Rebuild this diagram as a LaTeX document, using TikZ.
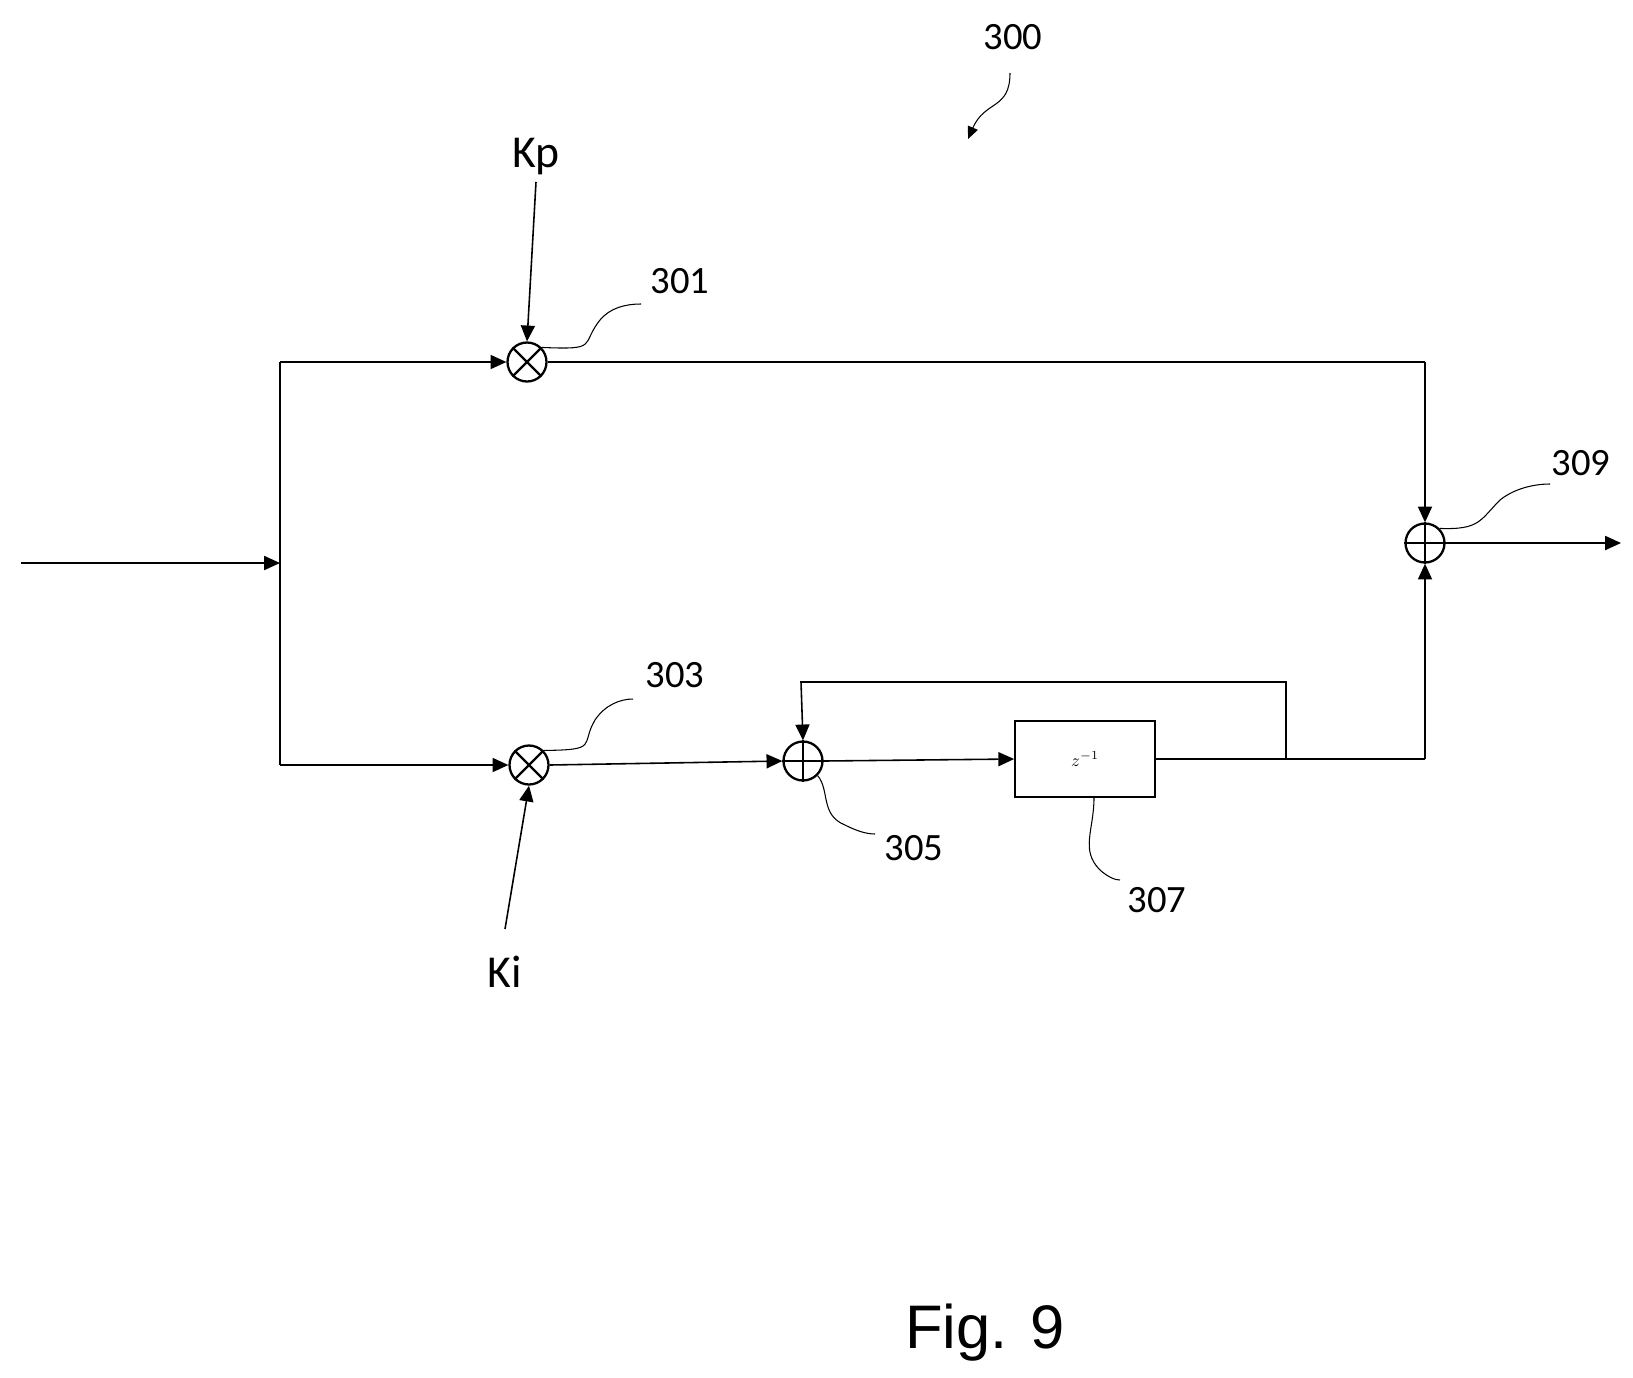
\documentclass[tikz,border=0pt]{standalone}
\usepackage{fontspec}
\setmainfont{Carlito}
\newfontfamily\figfont{Liberation Sans}
\usetikzlibrary{arrows.meta}
\begin{document}
\begin{tikzpicture}[x=0.02cm,y=-0.02cm,
  line width=0.9pt,
  arr/.style={-{Triangle[length=9pt,width=8pt]}},
  lead/.style={line width=0.6pt},
  lbl/.style={font=\fontsize{22}{26}\selectfont},
  op/.style={circle,draw,line width=1.3pt,minimum size=0.78cm,inner sep=0pt}]
\useasboundingbox (0,0) rectangle (1633,1377);
\node[op] (m1) at (527,362) {};
\draw[line width=1.3pt] (m1.north east)--(m1.south west) (m1.north west)--(m1.south east);
\node[op] (m2) at (529,765) {};
\draw[line width=1.3pt] (m2.north east)--(m2.south west) (m2.north west)--(m2.south east);
\node[op] (s1) at (803,761) {};
\draw[line width=1.3pt] (s1.north)--(s1.south) (s1.west)--(s1.east);
\node[op] (s2) at (1425,543) {};
\draw[line width=1.3pt] (s2.north)--(s2.south) (s2.west)--(s2.east);
\node[draw,line width=1pt,minimum width=2.8cm,minimum height=1.52cm] (d) at (1085,759) {$z^{-1}$};
\node[font=\fontsize{26}{30}\selectfont] (kp) at (536,157) {Kp};
\node[font=\fontsize{26}{30}\selectfont] (ki) at (505,972) {K\textsc{i}};
\coordinate (in) at (21,563);
\coordinate (sp) at (280,563);
\coordinate (out) at (1621,543);
\coordinate (fb) at (1286,759);
\draw[arr] (in) -- (sp);
\draw (280,362) -- (280,765);
\draw[arr] (280,362) -- (m1.west);
\draw[arr] (280,765) -- (m2.west);
\draw[arr] (kp.south) ++(0,0) -- (m1.north);
\draw[arr] (ki.north |- 0,929) -- (m2.south);
\draw (m1.east) -- (1425,362);
\draw[arr] (1425,362) -- (s2.north);
\draw[arr] (m2.east) -- (s1.west);
\draw[arr] (s1.east) -- (d.west);
\draw (d.east) -- (1425,759);
\draw[arr] (1425,759) -- (s2.south);
\draw[arr] (fb) -- (1286,682) -- (801,682) -- (s1.north);
\draw[arr] (s2.east) -- (out);
\node[lbl] (l300) at (1013,37) {300};
\node[lbl] (l301) at (680,281) {301};
\node[lbl] (l303) at (675,675) {303};
\node[lbl] (l305) at (914,848) {305};
\node[lbl] (l307) at (1157,900) {307};
\node[lbl] (l309) at (1581,463) {309};
\draw[lead,-{Triangle[length=7pt,width=6pt]}] (1010,73) .. controls (1010,110) and (985,100) .. (968,139);
\draw[lead] (m1.north east) .. controls (600,350) and (580,345) .. (600,320) .. controls (610,308) and (625,304) .. (641,304);
\draw[lead] (m2.north east) .. controls (600,750) and (580,745) .. (595,720) .. controls (605,705) and (620,699) .. (633,699);
\draw[lead] (s1.south east) .. controls (830,790) and (820,815) .. (845,825) .. controls (855,830) and (865,834) .. (875,834);
\draw[lead] (d.south west -| 1094,0) .. controls (1094,830) and (1080,850) .. (1100,870) .. controls (1108,877) and (1115,880) .. (1120,880);
\draw[lead] (s2.north east) .. controls (1480,530) and (1480,520) .. (1500,500) .. controls (1515,488) and (1535,484) .. (1550,484);
\node[font=\figfont\fontsize{35}{40}\selectfont] (fig) at (985,1333) {Fig. 9};
\end{tikzpicture}
\end{document}
